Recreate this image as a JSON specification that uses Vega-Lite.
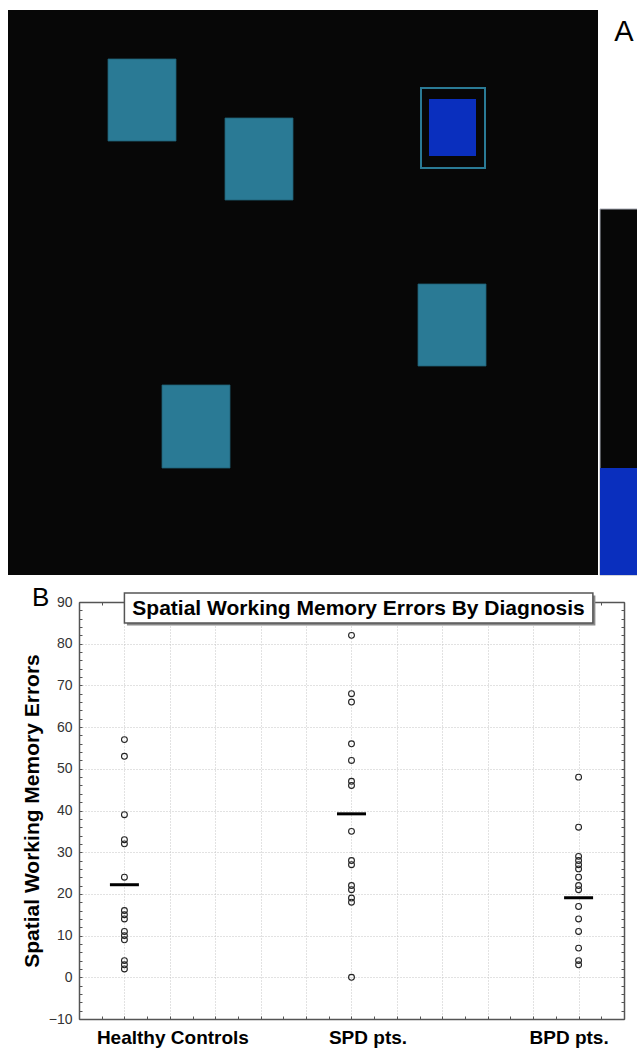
{
  "$schema": "https://vega.github.io/schema/vega-lite/v6.json",
  "autosize": {"type": "none"},
  "padding": {"left": 79, "top": 602, "right": 13, "bottom": 29},
  "width": 545,
  "height": 417,
  "background": "white",
  "config": {"view": {"stroke": null}, "font": "Liberation Sans"},
  "datasets": {
    "screen": [
      {"kind": "screen", "x0": 0, "x1": 590, "y0": 0, "y1": 565},
      {"kind": "strip", "x0": 592, "x1": 632, "y0": 199, "y1": 565},
      {"kind": "stripTarget", "x0": 592, "x1": 632, "y0": 458, "y1": 565},
      {"kind": "box", "x0": 100, "x1": 168, "y0": 49, "y1": 131},
      {"kind": "box", "x0": 217, "x1": 285, "y0": 108, "y1": 190},
      {"kind": "box", "x0": 154, "x1": 222, "y0": 375, "y1": 458},
      {"kind": "box", "x0": 410, "x1": 478, "y0": 274, "y1": 356},
      {"kind": "selection", "x0": 413, "x1": 477, "y0": 78, "y1": 158},
      {"kind": "target", "x0": 421, "x1": 468, "y0": 89, "y1": 146}
    ],
    "groups": [
      {"group": "Healthy Controls", "code": 1, "mean": 22.2},
      {"group": "SPD pts.", "code": 2, "mean": 39.2},
      {"group": "BPD pts.", "code": 3, "mean": 19.1}
    ],
    "errors": [
      {"group": "Healthy Controls", "errors": 57},
      {"group": "Healthy Controls", "errors": 53},
      {"group": "Healthy Controls", "errors": 39},
      {"group": "Healthy Controls", "errors": 33},
      {"group": "Healthy Controls", "errors": 32},
      {"group": "Healthy Controls", "errors": 24},
      {"group": "Healthy Controls", "errors": 16},
      {"group": "Healthy Controls", "errors": 15},
      {"group": "Healthy Controls", "errors": 14},
      {"group": "Healthy Controls", "errors": 11},
      {"group": "Healthy Controls", "errors": 10},
      {"group": "Healthy Controls", "errors": 9},
      {"group": "Healthy Controls", "errors": 4},
      {"group": "Healthy Controls", "errors": 3},
      {"group": "Healthy Controls", "errors": 2},
      {"group": "SPD pts.", "errors": 82},
      {"group": "SPD pts.", "errors": 68},
      {"group": "SPD pts.", "errors": 66},
      {"group": "SPD pts.", "errors": 56},
      {"group": "SPD pts.", "errors": 52},
      {"group": "SPD pts.", "errors": 47},
      {"group": "SPD pts.", "errors": 46},
      {"group": "SPD pts.", "errors": 35},
      {"group": "SPD pts.", "errors": 28},
      {"group": "SPD pts.", "errors": 27},
      {"group": "SPD pts.", "errors": 22},
      {"group": "SPD pts.", "errors": 21},
      {"group": "SPD pts.", "errors": 19},
      {"group": "SPD pts.", "errors": 18},
      {"group": "SPD pts.", "errors": 0},
      {"group": "BPD pts.", "errors": 48},
      {"group": "BPD pts.", "errors": 36},
      {"group": "BPD pts.", "errors": 29},
      {"group": "BPD pts.", "errors": 28},
      {"group": "BPD pts.", "errors": 27},
      {"group": "BPD pts.", "errors": 26},
      {"group": "BPD pts.", "errors": 24},
      {"group": "BPD pts.", "errors": 22},
      {"group": "BPD pts.", "errors": 21},
      {"group": "BPD pts.", "errors": 17},
      {"group": "BPD pts.", "errors": 14},
      {"group": "BPD pts.", "errors": 11},
      {"group": "BPD pts.", "errors": 7},
      {"group": "BPD pts.", "errors": 4},
      {"group": "BPD pts.", "errors": 3}
    ]
  },
  "layer": [
    {
      "layer": [
        {
          "data": {"name": "screen"},
          "encoding": {
            "x": {"field": "x0", "type": "quantitative", "axis": null, "scale": {"domain": [0, 629], "range": [-71, 558], "nice": false, "zero": false}},
            "x2": {"field": "x1"},
            "y": {"field": "y0", "type": "quantitative", "axis": null, "scale": {"domain": [0, 565], "range": [-592, -27], "nice": false, "zero": false}},
            "y2": {"field": "y1"}
          },
          "layer": [
            {"transform": [{"filter": "datum.kind === 'screen'"}], "mark": {"type": "rect", "fill": "#070707"}},
            {"transform": [{"filter": "datum.kind === 'strip'"}], "mark": {"type": "rect", "fill": "#070707", "stroke": "#a8abb5", "strokeWidth": 1}},
            {"transform": [{"filter": "datum.kind === 'stripTarget'"}], "mark": {"type": "rect", "fill": "#0a2fbe"}},
            {"transform": [{"filter": "datum.kind === 'box'"}], "mark": {"type": "rect", "fill": "#2a7a95", "stroke": "#1f5f75", "strokeWidth": 0.8}},
            {"transform": [{"filter": "datum.kind === 'selection'"}], "mark": {"type": "rect", "fill": "transparent", "stroke": "#2a7a95", "strokeWidth": 2}},
            {"transform": [{"filter": "datum.kind === 'target'"}], "mark": {"type": "rect", "fill": "#0a2fbe"}}
          ]
        },
        {
          "data": {"values": [{"label": "A"}]},
          "mark": {"type": "text", "fontSize": 29, "align": "center", "baseline": "alphabetic", "color": "#000", "opacity": 1},
          "encoding": {
            "x": {"datum": 616, "type": "quantitative", "axis": null},
            "y": {"datum": 31, "type": "quantitative", "axis": null},
            "text": {"field": "label", "type": "nominal"}
          }
        }
      ]
    },
    {
      "layer": [
        {
          "data": {"name": "errors"},
          "transform": [{"lookup": "group", "from": {"data": {"name": "groups"}, "key": "group", "fields": ["code"]}}],
          "mark": {"type": "point", "shape": "circle", "filled": false, "color": "#222", "strokeWidth": 1.1, "size": 34, "opacity": 1},
          "encoding": {
            "x": {
              "field": "code", "type": "quantitative",
              "scale": {"domain": [0.8, 3.2], "nice": false, "zero": false},
              "axis": {
                "orient": "bottom",
                "title": null,
                "values": [0.8, 0.9, 1, 1.1, 1.2, 1.3, 1.4, 1.5, 1.6, 1.7, 1.8, 1.9, 2, 2.1, 2.2, 2.3, 2.4, 2.5, 2.6, 2.7, 2.8, 2.9, 3, 3.1, 3.2],
                "labelExpr": "datum.value === 1 ? 'Healthy Controls' : datum.value === 2 ? 'SPD pts.' : datum.value === 3 ? 'BPD pts.' : ''",
                "labelOffset": {"condition": [{"test": "datum.value === 1", "value": 48}, {"test": "datum.value === 2", "value": 16}], "value": -10},
                "labelFontSize": 19, "labelFontWeight": "bold", "labelColor": "#000",
                "labelBaseline": "alphabetic", "labelAlign": "center", "labelPadding": 27,
                "labelOverlap": false, "labelFlush": false, "labelBound": false,
                "tickSize": -3, "tickColor": "#555", "tickWidth": 1,
                "domainColor": "#555", "domainWidth": 1.5,
                "grid": true, "gridColor": "#c4c4c4", "gridDash": [1, 2], "gridWidth": 1,
                "gridOpacity": {"condition": {"test": "abs(datum.value * 5 - round(datum.value * 5)) > 0.01", "value": 0}, "value": 1}
              }
            },
            "y": {
              "field": "errors", "type": "quantitative",
              "scale": {"domain": [-10, 90], "nice": false, "zero": false},
              "axis": {
                "orient": "left",
                "title": "Spatial Working Memory Errors",
                "titleFontSize": 21, "titleFontWeight": "bold", "titleColor": "#000", "titlePadding": 6,
                "values": [-10, -8, -6, -4, -2, 0, 2, 4, 6, 8, 10, 12, 14, 16, 18, 20, 22, 24, 26, 28, 30, 32, 34, 36, 38, 40, 42, 44, 46, 48, 50, 52, 54, 56, 58, 60, 62, 64, 66, 68, 70, 72, 74, 76, 78, 80, 82, 84, 86, 88, 90],
                "labelExpr": "datum.value % 10 === 0 ? datum.label : ''",
                "labelFontSize": 14, "labelColor": "#333", "labelPadding": 10,
                "labelOverlap": false, "labelFlush": false, "labelBound": false,
                "tickSize": -3, "tickColor": "#555", "tickWidth": 1,
                "domainColor": "#555", "domainWidth": 1.5,
                "grid": true, "gridColor": "#c4c4c4", "gridDash": [1, 2], "gridWidth": 1,
                "gridOpacity": {"condition": {"test": "datum.value % 10 !== 0", "value": 0}, "value": 1}
              }
            }
          }
        },
        {
          "data": {"name": "groups"},
          "mark": {"type": "tick", "orient": "horizontal", "size": 29, "thickness": 3, "color": "#000", "opacity": 1},
          "encoding": {
            "x": {
              "field": "code", "type": "quantitative",
              "axis": {
                "orient": "top", "title": null, "labels": false, "grid": false,
                "values": [0.8, 0.9, 1, 1.1, 1.2, 1.3, 1.4, 1.5, 1.6, 1.7, 1.8, 1.9, 2, 2.1, 2.2, 2.3, 2.4, 2.5, 2.6, 2.7, 2.8, 2.9, 3, 3.1, 3.2],
                "tickSize": -3, "tickColor": "#555", "tickWidth": 1,
                "domainColor": "#555", "domainWidth": 1.5
              }
            },
            "y": {
              "field": "mean", "type": "quantitative",
              "axis": {
                "orient": "right", "title": null, "labels": false, "grid": false,
                "values": [-10, -8, -6, -4, -2, 0, 2, 4, 6, 8, 10, 12, 14, 16, 18, 20, 22, 24, 26, 28, 30, 32, 34, 36, 38, 40, 42, 44, 46, 48, 50, 52, 54, 56, 58, 60, 62, 64, 66, 68, 70, 72, 74, 76, 78, 80, 82, 84, 86, 88, 90],
                "tickSize": -3, "tickColor": "#555", "tickWidth": 1,
                "domainColor": "#555", "domainWidth": 1.5
              }
            }
          }
        },
        {
          "data": {"values": [{"title": "Spatial Working Memory Errors By Diagnosis"}]},
          "layer": [
            {
              "mark": {"type": "rect", "fill": "#8a8a8a", "xOffset": 2.5, "x2Offset": 2.5, "yOffset": 2.5, "y2Offset": 2.5},
              "encoding": {
                "x": {"datum": 1.0, "type": "quantitative", "axis": null},
                "x2": {"datum": 3.063},
                "y": {"datum": 92.16, "type": "quantitative", "axis": null},
                "y2": {"datum": 84.96}
              }
            },
            {
              "mark": {"type": "rect", "fill": "white", "stroke": "#555", "strokeWidth": 1.5},
              "encoding": {
                "x": {"datum": 1.0, "type": "quantitative", "axis": null},
                "x2": {"datum": 3.063},
                "y": {"datum": 92.16, "type": "quantitative", "axis": null},
                "y2": {"datum": 84.96}
              }
            },
            {
              "mark": {"type": "text", "fontSize": 21, "fontWeight": "bold", "align": "center", "baseline": "alphabetic", "color": "#000"},
              "encoding": {
                "x": {"datum": 2.031, "type": "quantitative", "axis": null},
                "y": {"datum": 86.88, "type": "quantitative", "axis": null},
                "text": {"field": "title"}
              }
            }
          ]
        },
        {
          "data": {"values": [{"label": "B"}]},
          "mark": {"type": "text", "fontSize": 26, "align": "left", "baseline": "alphabetic", "color": "#000"},
          "encoding": {
            "x": {"datum": 0.593, "type": "quantitative", "axis": null},
            "y": {"datum": 89.04, "type": "quantitative", "axis": null},
            "text": {"field": "label"}
          }
        }
      ],
      "resolve": {"axis": {"x": "independent", "y": "independent"}}
    }
  ],
  "resolve": {"scale": {"x": "independent", "y": "independent"}}
}
